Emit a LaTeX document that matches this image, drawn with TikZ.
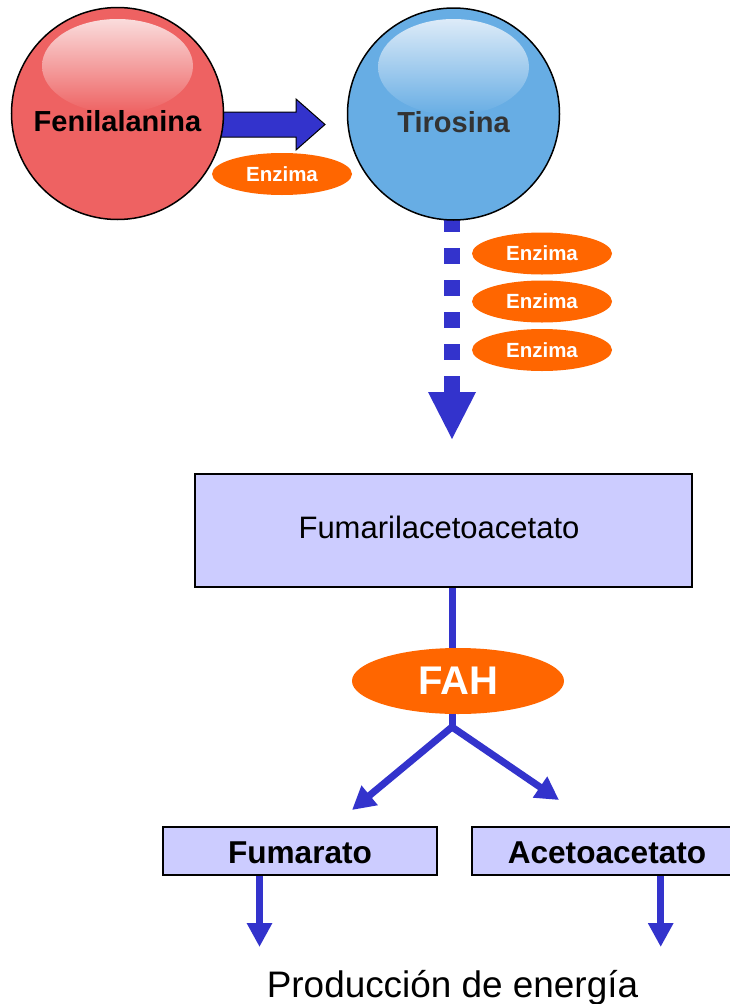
\documentclass[tikz,border=0pt]{standalone}
\usepackage{fontspec}
\setmainfont{Liberation Sans}
\usetikzlibrary{arrows.meta,shapes.geometric}
\definecolor{redc}{HTML}{EE6262}
\definecolor{redhi}{HTML}{FADCDC}
\definecolor{bluec}{HTML}{67ADE4}
\definecolor{bluehi}{HTML}{DDEBF8}
\definecolor{arrowc}{HTML}{3333CC}
\definecolor{orangec}{HTML}{FF6600}
\definecolor{boxc}{HTML}{CCCCFF}
\definecolor{tirtext}{HTML}{333333}
\tikzset{
  ball/.style={circle, draw=black, line width=1.5pt, minimum size=212pt, inner sep=0pt},
  enz/.style={ellipse, fill=orangec, text=white, inner sep=0pt, minimum width=140pt, minimum height=42pt,
              font=\fontsize{20.5}{20.5}\selectfont\bfseries},
  boxn/.style={rectangle, draw=black, line width=2pt, fill=boxc, inner sep=0pt},
  bigtxt/.style={font=\fontsize{29}{29}\selectfont\bfseries, anchor=base, inner sep=0pt},
  prodtxt/.style={font=\fontsize{31.6}{31.6}\selectfont\bfseries, anchor=base, inner sep=0pt},
  flowline/.style={draw=arrowc, line width=7pt},
}
\begin{document}
\begin{tikzpicture}[x=1pt,y=-1pt]
\useasboundingbox (0,0) rectangle (730,1004);
\clip (0,0) rectangle (730,1004);
\fill[white] (0,0) rectangle (730,1004);

% coordinates for connector ends
\coordinate (dtop) at (452,216);
\coordinate (dend) at (452,392);
\coordinate (j) at (452,727);
\coordinate (tl) at (352,810);
\coordinate (tr) at (559,800);
\coordinate (b1) at (259.5,947);
\coordinate (b2) at (660.7,947);

% block arrow Fenilalanina -> Tirosina (behind circles)
\filldraw[fill=arrowc, draw=black, line width=1pt]
  (200,112) -- (296,112) -- (296,99) -- (325,124.5) -- (296,150) -- (296,137) -- (200,137) -- cycle;

% dotted arrow from Tirosina
\draw[arrowc, line width=16pt, dash pattern=on 16pt off 16pt] (dtop) -- (dend);
\fill[arrowc] (428,392) -- (476,392) -- (452,439) -- cycle;

% circles
\node[ball, fill=redc] (fen) at (117.5,113.5) {};
\node[ball, fill=bluec] (tir) at (453.5,114) {};
\shade[top color=redhi, bottom color=redc] (117.5,66) ellipse [x radius=75.5pt, y radius=47pt];
\shade[top color=bluehi, bottom color=bluec] (453.5,67) ellipse [x radius=75.5pt, y radius=48pt];
\node[bigtxt] (fentxt) at (117.5,131.7) {Fenilalanina};
\node[bigtxt, text=tirtext] (tirtxt) at (453.5,132.7) {Tirosina};

% enzymes
\node[enz] (e1) at (282,174) {Enzima};
\node[enz] (e2) at (542,253.5) {Enzima};
\node[enz] (e3) at (542,301.5) {Enzima};
\node[enz] (e4) at (542,350) {Enzima};

% Fumarilacetoacetato
\node[boxn, minimum width=497pt, minimum height=113pt] (fum) at (443.5,530.5) {};
\node[anchor=base, inner sep=0pt, font=\fontsize{31}{31}\selectfont] (fumtxt) at (439,538) {Fumarilacetoacetato};

% FAH connector
\draw[flowline] (fum.south -| j) -- (j);
\node[ellipse, fill=orangec, text=white, inner sep=0pt, minimum width=212pt, minimum height=66pt,
      font=\fontsize{40}{40}\selectfont\bfseries] (fah) at (458,681) {FAH};
\draw[flowline, line join=miter, {Triangle[width=24pt,length=23pt]}-{Triangle[width=24pt,length=23pt]}]
  (tl) -- (j) -- (tr);

% product boxes
\node[boxn, minimum width=274pt, minimum height=48pt] (fumar) at (300,851) {};
\node[prodtxt] (fumartxt) at (300,863) {Fumarato};
\node[boxn, minimum width=300pt, minimum height=48pt, anchor=west] (aceto) at (470.5,851) {};
\node[prodtxt] (acetotxt) at (607,863) {Acetoacetato};

% arrows to energy
\draw[flowline, -{Triangle[width=24pt,length=24pt]}] (fumar.south -| b1) -- (b1);
\draw[flowline, -{Triangle[width=24pt,length=24pt]}] (aceto.south -| b2) -- (b2);

\node[anchor=base, inner sep=0pt, font=\fontsize{36.9}{36.9}\selectfont] (energia) at (452.5,997) {Producción de energía};
\end{tikzpicture}
\end{document}
